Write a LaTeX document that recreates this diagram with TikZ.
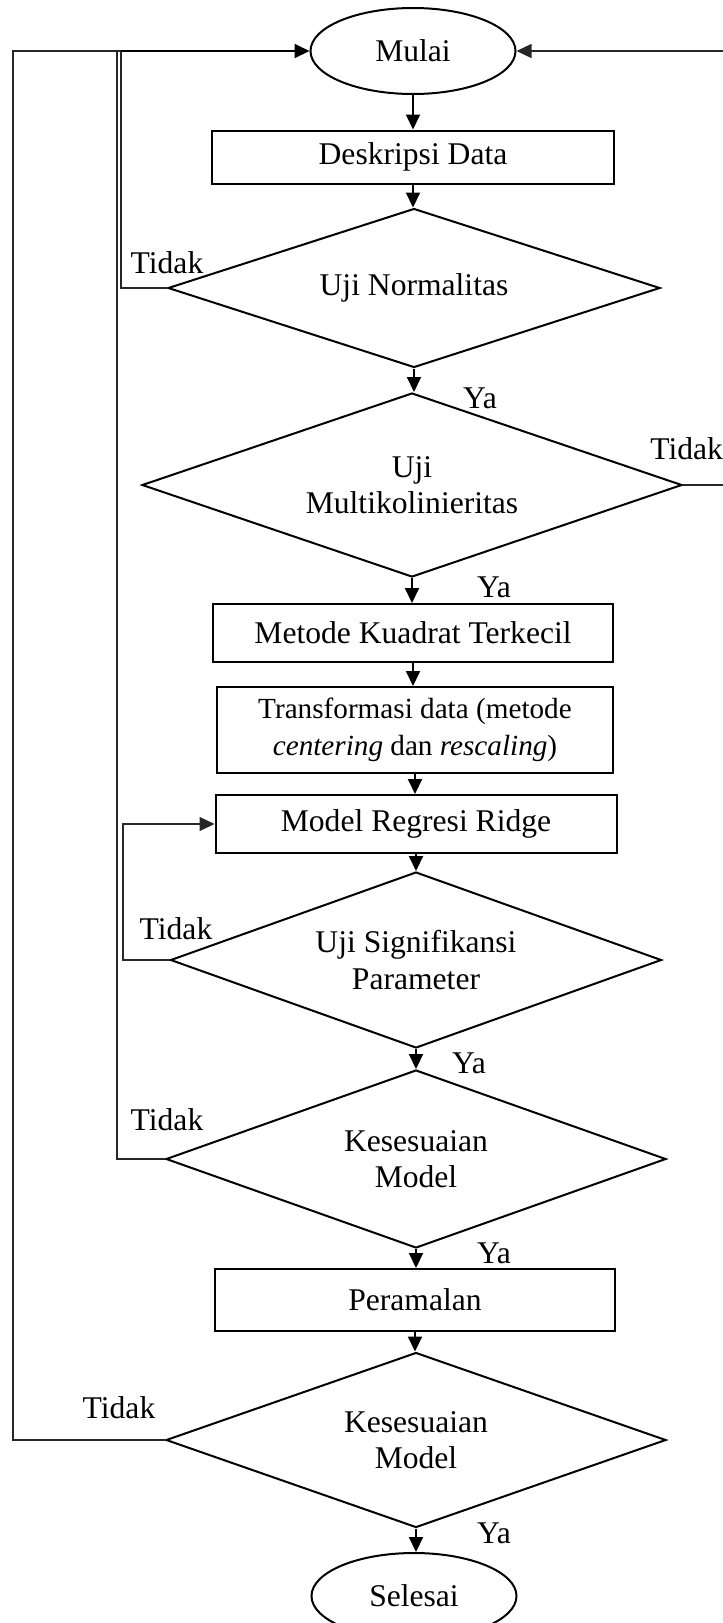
\documentclass[tikz,border=0pt]{standalone}
\usepackage{fontspec}
\setmainfont{Liberation Serif}
\usetikzlibrary{shapes.geometric,arrows.meta}
\begin{document}
\begin{tikzpicture}[x=0.5pt,y=-0.5pt,
  every node/.style={font=\fontsize{15.8}{18.3}\selectfont},
  proc/.style={draw, line width=1pt, rectangle, inner sep=0pt},
  term/.style={draw, line width=1pt, ellipse, inner sep=0pt, minimum width=102.5pt, minimum height=43pt},
  dec/.style={draw, line width=1pt, diamond, inner sep=0pt, align=center},
  tip/.style={-{Triangle[length=7.5pt,width=7pt]}},
  arr/.style={line width=1pt, tip},
  loopline/.style={line width=0.65pt, draw=black!85},
  lbl/.style={inner sep=0pt}
]
\useasboundingbox (0,0) rectangle (723,1623);

% nodes
\node[term] (start) at (413,51) {Mulai};
\node[proc, minimum width=201pt, minimum height=26.5pt] (desk) at (413,157) {Deskripsi Data};
\node[dec, shape aspect=3.09, minimum width=246pt, minimum height=79.5pt] (norm) at (414,288) {Uji Normalitas};
\node[dec, shape aspect=2.93, minimum width=270pt, minimum height=92pt] (multi) at (412,485) {Uji\\Multikolinieritas};
\node[proc, minimum width=200pt, minimum height=29pt] (kuad) at (413,633) {Metode Kuadrat Terkecil};
\node[proc, minimum width=198pt, minimum height=43pt, align=center, font=\fontsize{14.6}{18.3}\selectfont] (trans) at (415,730) {Transformasi data (metode\\\textit{centering} dan \textit{rescaling})};
\node[proc, minimum width=200.5pt, minimum height=29pt] (ridge) at (416,824) {Model Regresi Ridge};
\node[dec, shape aspect=2.78, minimum width=245.5pt, minimum height=88pt] (signif) at (416,960) {Uji Signifikansi\\Parameter};
\node[dec, shape aspect=2.8, minimum width=250pt, minimum height=89pt] (kes1) at (416,1159) {Kesesuaian\\Model};
\node[proc, minimum width=200pt, minimum height=31pt] (peram) at (415,1300) {Peramalan};
\node[dec, shape aspect=2.86, minimum width=250pt, minimum height=87.5pt] (kes2) at (416,1440) {Kesesuaian\\Model};
\node[term] (end) at (414,1596) {Selesai};

% labels
\node[lbl, anchor=base] (t1) at (167,273) {Tidak};
\node[lbl, anchor=base] (y1) at (480,408) {Ya};
\node[lbl, anchor=base west] (t2) at (650,459) {Tidak};
\node[lbl, anchor=base] (y2) at (494,597) {Ya};
\node[lbl, anchor=base] (t3) at (176,939) {Tidak};
\node[lbl, anchor=base] (y3) at (469,1073) {Ya};
\node[lbl, anchor=base] (t4) at (167,1130) {Tidak};
\node[lbl, anchor=base] (y4) at (494,1263) {Ya};
\node[lbl, anchor=base] (t5) at (119,1418) {Tidak};
\node[lbl, anchor=base] (y5) at (494,1543) {Ya};

% coordinates for loops
\coordinate (n1) at (121,51);
\coordinate (k1) at (117,51);
\coordinate (k2) at (13,51);
\coordinate (s1) at (123,824);
\coordinate (r1) at (732,485);
\coordinate (r2) at (732,51);

% main flow
\draw[arr] (start.south) -- (start.south |- desk.north);
\draw[arr] (desk.south) -- (desk.south |- norm.north);
\draw[arr] (norm.south) -- (norm.south |- multi.north);
\draw[arr] (multi.south) -- (multi.south |- kuad.north);
\draw[arr] (kuad.south) -- (kuad.south |- trans.north);
\draw[arr] (trans.south) -- (trans.south |- ridge.north);
\draw[arr] (ridge.south) -- (ridge.south |- signif.north);
\draw[arr] (signif.south) -- (signif.south |- kes1.north);
\draw[arr] (kes1.south) -- (kes1.south |- peram.north);
\draw[arr] (peram.south) -- (peram.south |- kes2.north);
\draw[arr] (kes2.south) -- (kes2.south |- end.north);

% loops
\draw[loopline] (norm.west) -| (n1);
\draw[loopline] (kes1.west) -| (k1);
\draw[loopline] (kes2.west) -| (k2) -- (n1);
\draw[arr] (n1) -- (start.west);
\draw[loopline, tip] (signif.west) -| (s1) -- (ridge.west);
\draw[loopline, tip] (multi.east) -- (r1) -- (r2) -- (start.east);
\end{tikzpicture}
\end{document}
